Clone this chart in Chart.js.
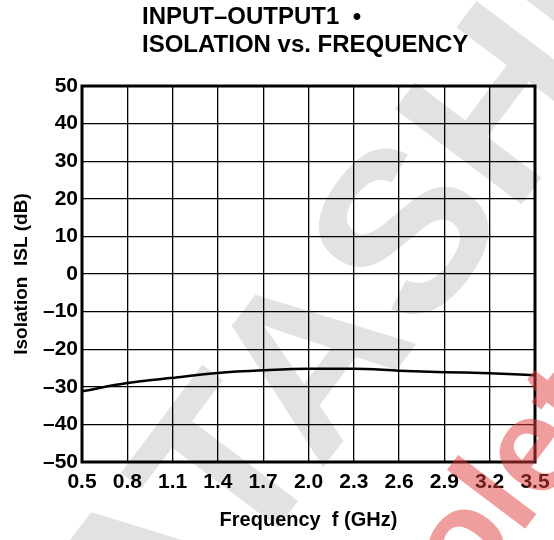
<!DOCTYPE html>
<html>
<head>
<meta charset="utf-8">
<script src="https://cdn.jsdelivr.net/npm/chart.js@4/dist/chart.umd.min.js"></script>
<style>
  html, body { margin: 0; padding: 0; background: #fff; }
  #wrap { position: relative; width: 554px; height: 540px; }
  #title {
    position: absolute; left: 142px; top: 2px;
    font-family: "Liberation Sans", Arial, sans-serif;
    font-weight: bold; font-size: 24px; line-height: 28px; color: #000;
    white-space: pre; z-index: 2;
  }
</style>
</head>
<body>
<div id="wrap">
  <canvas id="chart" width="554" height="540"></canvas>
  <div id="title">INPUT–OUTPUT1  •
ISOLATION vs. FREQUENCY</div>
</div>
<script>
const frequency = [0.5, 0.8, 1.1, 1.4, 1.7, 2.0, 2.3, 2.6, 2.9, 3.2, 3.5];
const isolation = [-31.2, -29.0, -27.6, -26.3, -25.6, -25.2, -25.2, -25.7, -26.1, -26.4, -26.9];
const xTicks = [0.5, 0.8, 1.1, 1.4, 1.7, 2.0, 2.3, 2.6, 2.9, 3.2, 3.5];
const yTicks = [-50, -40, -30, -20, -10, 0, 10, 20, 30, 40, 50];

const FONT = '"Liberation Sans", Arial, sans-serif';
const ANGLE = -53 * Math.PI / 180;

// draw text rotated so that the letter at `index` lands centred on (tx, ty)
function placeText(ctx, text, index, size, tx, ty) {
  ctx.font = 'bold ' + size + 'px ' + FONT;
  const before = ctx.measureText(text.slice(0, index)).width;
  const letter = ctx.measureText(text[index]).width;
  const lx = before + letter / 2;
  const ly = -0.36 * size;
  const cos = Math.cos(ANGLE);
  const sin = Math.sin(ANGLE);
  ctx.translate(tx - (lx * cos - ly * sin), ty - (lx * sin + ly * cos));
  ctx.rotate(ANGLE);
  ctx.textAlign = 'left';
  ctx.textBaseline = 'alphabetic';
  ctx.fillText(text, 0, 0);
}

// watermarks from the scanned datasheet
const watermark = {
  id: 'watermark',
  beforeDraw(chart) {
    const ctx = chart.ctx;
    ctx.save();
    ctx.fillStyle = '#e2e2e2';
    placeText(ctx, 'DATASHEET', 4, 230, 400, 228);
    ctx.restore();
  },
  afterDraw(chart) {
    const ctx = chart.ctx;
    const a = chart.chartArea;
    ctx.save();
    ctx.lineWidth = 3;
    ctx.strokeStyle = '#000';
    ctx.strokeRect(a.left, a.top, a.right - a.left, a.bottom - a.top);
    ctx.fillStyle = 'rgba(225, 60, 60, 0.5)';
    placeText(ctx, 'Obsolete', 4, 135, 492, 492);
    ctx.restore();
  }
};

new Chart(document.getElementById('chart'), {
  type: 'line',
  data: {
    datasets: [{
      data: frequency.map((f, i) => ({ x: f, y: isolation[i] })),
      borderColor: '#000',
      borderWidth: 2.5,
      pointRadius: 0,
      tension: 0.4,
      cubicInterpolationMode: 'monotone',
      fill: false,
    }],
  },
  options: {
    responsive: false,
    animation: false,
    layout: { padding: { top: 86, right: 19, left: 8, bottom: 0 } },
    plugins: {
      legend: { display: false },
      tooltip: { enabled: false },
    },
    scales: {
      x: {
        type: 'linear',
        min: 0.5,
        max: 3.5,
        afterBuildTicks: (scale) => { scale.ticks = xTicks.map((v) => ({ value: v })); },
        afterFit: (scale) => {
          scale.height = 78;
          scale.paddingLeft = 0;
          scale.paddingRight = 0;
        },
        ticks: {
          autoSkip: false,
          maxRotation: 0,
          padding: 8,
          color: '#000',
          font: { family: FONT, size: 21, weight: 'bold' },
          callback: (v) => Number(v).toFixed(1),
        },
        grid: { color: '#000', lineWidth: 1.3, drawTicks: false },
        border: { display: false },
        title: {
          display: true,
          text: 'Frequency  f (GHz)',
          color: '#000',
          font: { family: FONT, size: 20, weight: 'bold' },
          padding: { top: 0, bottom: 8 },
        },
      },
      y: {
        min: -50,
        max: 50,
        afterBuildTicks: (scale) => { scale.ticks = yTicks.map((v) => ({ value: v })); },
        afterFit: (scale) => { scale.width = 74; },
        ticks: {
          padding: 4,
          color: '#000',
          font: { family: FONT, size: 21, weight: 'bold' },
          callback: (v) => (v < 0 ? '\u2013' + Math.abs(v) : String(v)),
        },
        grid: { color: '#000', lineWidth: 1.3, drawTicks: false },
        border: { display: false },
        title: {
          display: true,
          text: 'Isolation  ISL (dB)',
          color: '#000',
          font: { family: FONT, size: 19, weight: 'bold' },
          padding: 2,
        },
      },
    },
  },
  plugins: [watermark],
});
</script>
</body>
</html>
